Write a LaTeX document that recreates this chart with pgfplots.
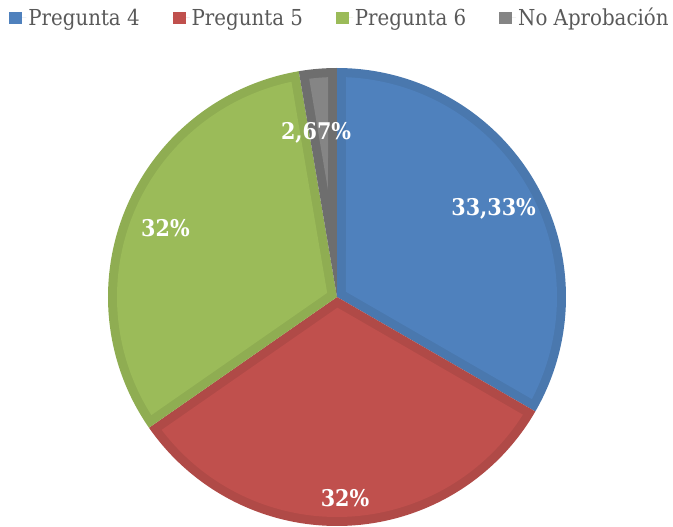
\documentclass[border=0pt]{standalone}
\usepackage{pgfplots}
\pgfplotsset{compat=1.18}
\usepackage{pgfplotstable}
\usepgfplotslibrary{polar}
\usepackage{fontspec}
\setmainfont{DejaVu Serif Condensed}
\definecolor{bluel}{HTML}{4F81BD}
\definecolor{blued}{HTML}{4A78AE}
\definecolor{redl}{HTML}{C0504D}
\definecolor{redd}{HTML}{B04A47}
\definecolor{greenl}{HTML}{9BBB59}
\definecolor{greend}{HTML}{8FAD52}
\definecolor{grayl}{HTML}{858585}
\definecolor{grayd}{HTML}{6E6E6E}

\pgfplotstableread{
label value
P4 33.33
P5 32
P6 32
NA 2.67
}\piedata

\def\R{229}
\def\w{9}
\newcommand\pieslice[4]{%
  \pgfmathsetmacro\sb{90-3.6*#1}%
  \pgfmathsetmacro\sa{90-3.6*(#1+#2)}%
  \pgfmathsetmacro\md{(\sa+\sb)/2}%
  \pgfmathsetmacro\hf{(\sb-\sa)/2}%
  \pgfmathsetmacro\dd{\w/sin(\hf)}%
  \pgfmathsetmacro\dl{asin(\w/(\R-\w))}%
  \pgfmathsetmacro\ia{\sa+\dl}%
  \pgfmathsetmacro\ib{\sb-\dl}%
  \pgfmathsetmacro\ri{\R-\w}%
  \edef\doslice{%
    \noexpand\addplot[fill=#3, draw=none, domain=\sa:\sb, samples=150, forget plot] {\R} -- (axis cs:0,0) -- cycle;
    \noexpand\addplot[fill=#4, draw=none, domain=\ia:\ib, samples=150, forget plot] {\ri} -- (axis cs:\md,\dd) -- cycle;
  }\doslice
}

\begin{document}
\begin{tikzpicture}
\pgfplotstablegetelem{0}{value}\of\piedata \let\vA\pgfplotsretval
\pgfplotstablegetelem{1}{value}\of\piedata \let\vB\pgfplotsretval
\pgfplotstablegetelem{2}{value}\of\piedata \let\vC\pgfplotsretval
\pgfplotstablegetelem{3}{value}\of\piedata \let\vD\pgfplotsretval
\pgfmathsetmacro\cB{\vA}
\pgfmathsetmacro\cC{\vA+\vB}
\pgfmathsetmacro\cD{\vA+\vB+\vC}
\useasboundingbox (0,0) rectangle (673pt,527pt);
\begin{polaraxis}[
  at={(337pt,230pt)}, anchor=center,
  width=458pt, height=458pt, scale only axis,
  xmin=0, xmax=360, ymin=0, ymax=229,
  hide axis, clip=false,
  legend columns=4,
  legend style={draw=none, fill=none, at={(0.5,1)}, anchor=north, yshift=64pt, xshift=3pt,
    font=\fontsize{22}{26}\selectfont, text=black!65,
    /tikz/every even column/.append style={column sep=31pt}},
  legend image code/.code={\fill[#1] (0pt,-6pt) rectangle (13pt,6pt); \path (0pt,0pt) -- (17pt,0pt);},
]
\pieslice{0}{\vA}{blued}{bluel}
\pieslice{\cB}{\vB}{redd}{redl}
\pieslice{\cC}{\vC}{greend}{greenl}
\pieslice{\cD}{\vD}{grayd}{grayl}
\addlegendimage{fill=bluel, draw=none}\addlegendentry{Pregunta 4}
\addlegendimage{fill=redl, draw=none}\addlegendentry{Pregunta 5}
\addlegendimage{fill=greenl, draw=none}\addlegendentry{Pregunta 6}
\addlegendimage{fill=grayl, draw=none}\addlegendentry{No Aprobación}
\node[font=\bfseries\fontsize{23}{28}\selectfont, text=white] at (axis cs:29.5,180) {33,33\%};
\node[font=\bfseries\fontsize{23}{28}\selectfont, text=white] at (axis cs:272.3,201) {32\%};
\node[font=\bfseries\fontsize{23}{28}\selectfont, text=white] at (axis cs:158,185) {32\%};
\node[font=\bfseries\fontsize{23}{28}\selectfont, text=white] at (axis cs:97.3,165) {2,67\%};
\end{polaraxis}
\end{tikzpicture}
\end{document}
